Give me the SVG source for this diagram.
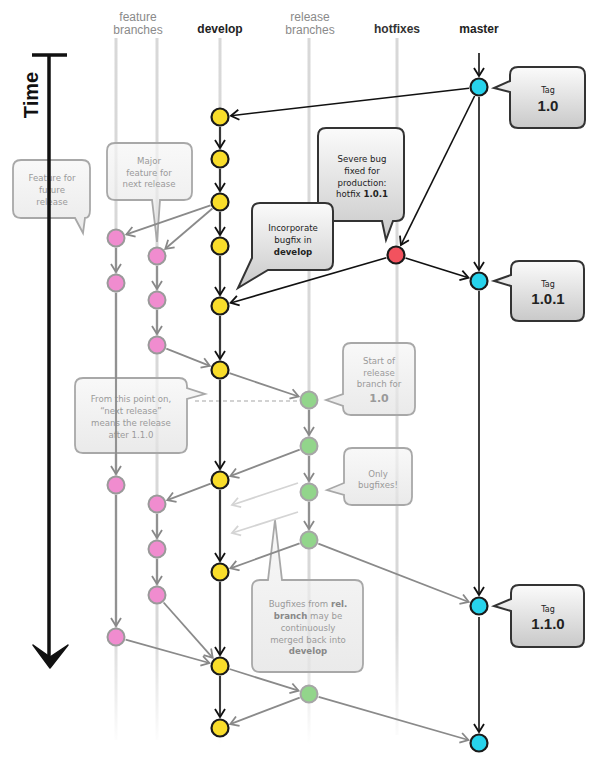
<svg xmlns="http://www.w3.org/2000/svg" width="599" height="765" viewBox="0 0 599 765">
<defs>
<linearGradient id="laneFade" gradientUnits="userSpaceOnUse" x1="0" y1="630" x2="0" y2="745">
<stop offset="0" stop-color="#d8d8d8"/><stop offset="1" stop-color="#d8d8d8" stop-opacity="0"/>
</linearGradient>
<linearGradient id="darkFill" x1="0" y1="0" x2="0" y2="1">
<stop offset="0" stop-color="#fbfbfb"/><stop offset="1" stop-color="#c9c9c9"/>
</linearGradient>
<linearGradient id="fadeFill" x1="0" y1="0" x2="0" y2="1">
<stop offset="0" stop-color="#f6f6f6"/><stop offset="1" stop-color="#e2e2e2"/>
</linearGradient>
<marker id="ab" viewBox="-10 -6 12 12" refX="0" refY="0" markerWidth="12" markerHeight="12" markerUnits="userSpaceOnUse" orient="auto"><path d="M-8,-5 L0,0 L-8,5" fill="none" stroke="#111" stroke-width="1.8"/></marker>
<marker id="ag" viewBox="-10 -6 12 12" refX="0" refY="0" markerWidth="12" markerHeight="12" markerUnits="userSpaceOnUse" orient="auto"><path d="M-8,-5 L0,0 L-8,5" fill="none" stroke="#888" stroke-width="1.8"/></marker>
<marker id="al" viewBox="-10 -6 12 12" refX="0" refY="0" markerWidth="12" markerHeight="12" markerUnits="userSpaceOnUse" orient="auto"><path d="M-8,-5 L0,0 L-8,5" fill="none" stroke="#d4d4d4" stroke-width="1.8"/></marker>
</defs>
<style>
.hdr{font-family:"Liberation Sans",Arial,sans-serif;font-size:12px;text-anchor:middle}
.gh{fill:#8a8a8a}
.bh{fill:#222;font-weight:bold}
.lane{stroke:url(#laneFade);stroke-width:3;fill:none}
.lanetop{stroke:#d8d8d8;stroke-width:3;fill:none}
.cb{stroke:#d8d8d8;stroke-width:3}
.k{stroke:#111;stroke-width:1.6;fill:none;marker-end:url(#ab)}
.g{stroke:#8a8a8a;stroke-width:1.8;fill:none;marker-end:url(#ag)}
.l{stroke:#d4d4d4;stroke-width:1.8;fill:none;marker-end:url(#al)}
.dc{fill:url(#darkFill);stroke:#333;stroke-width:2}
.fc{fill:url(#fadeFill);fill-opacity:0.72;stroke:#a8a8a8;stroke-width:1.8}
.dt{font-family:"DejaVu Sans","Liberation Sans",sans-serif;font-size:8.6px;fill:#222;text-anchor:middle}
.ft{font-family:"DejaVu Sans","Liberation Sans",sans-serif;font-size:8.6px;fill:#9a9a9a;text-anchor:middle}
.b{font-weight:bold}
.tagS{font-family:"DejaVu Sans","Liberation Sans",sans-serif;font-size:8px;fill:#222;text-anchor:middle}
.tagB{font-family:"Liberation Sans",Arial,sans-serif;font-size:15px;font-weight:bold;fill:#222;text-anchor:middle}
.dev{fill:#f9dd2b;stroke:#1a1a1a;stroke-width:2.2}
.mas{fill:#27d3ec;stroke:#1a1a1a;stroke-width:2.2}
.hot{fill:#f2525e;stroke:#1a1a1a;stroke-width:2.2}
.fea{fill:#f08ccf;stroke:#9a9a9a;stroke-width:2}
.rel{fill:#92d58b;stroke:#a6a6a6;stroke-width:2}
</style>
<rect width="599" height="765" fill="#fff"/>

<g id="headers">
<text class="hdr gh" x="138" y="21">feature</text>
<text class="hdr gh" x="138" y="34">branches</text>
<text class="hdr bh" x="220" y="33">develop</text>
<text class="hdr gh" x="310" y="21">release</text>
<text class="hdr gh" x="310" y="34">branches</text>
<text class="hdr bh" x="397" y="33" style="fill:#333">hotfixes</text>
<text class="hdr bh" x="479" y="33">master</text>
</g>

<g id="lanes">
<line class="lane" x1="116" y1="38" x2="116" y2="740"/>
<line class="lane" x1="157" y1="38" x2="157" y2="740"/>
<line class="lane" x1="220" y1="38" x2="220" y2="745"/>
<line class="lane" x1="309" y1="38" x2="309" y2="745"/>
<line class="lane" x1="397" y1="38" x2="397" y2="735"/>
</g>

<g id="callout-feature-future">
<path class="fc" d="M21,160 H82 Q90,160 90,168 V210 Q90,218 85,218 L83,233 L75,218 H21 Q13,218 13,210 V168 Q13,160 21,160 Z"/>
<text class="ft" x="52" y="180.5">Feature for</text>
<text class="ft" x="52" y="192.5">future</text>
<text class="ft" x="52" y="204.5">release</text>
</g>
<g id="callout-major-feature">
<path class="fc" d="M115,143 H184 Q192,143 192,151 V192 Q192,200 184,200 H160 L157,242 L152,200 H115 Q107,200 107,192 V151 Q107,143 115,143 Z"/>
<text class="ft" x="149" y="163.5">Major</text>
<text class="ft" x="149" y="175.5">feature for</text>
<text class="ft" x="149" y="187">next release</text>
</g>
<g id="callout-next-release">
<path class="fc" d="M83,378 H179 Q187,378 187,386 V388 L205,394 L187,399 V445 Q187,453 179,453 H83 Q75,453 75,445 V386 Q75,378 83,378 Z"/>
<text class="ft" x="131" y="402">From this point on,</text>
<text class="ft" x="131" y="414">“next release”</text>
<text class="ft" x="131" y="426">means the release</text>
<text class="ft" x="131" y="438">after 1.1.0</text>
</g>
<g id="callout-start-release">
<path class="fc" d="M351,343 H407 Q415,343 415,351 V407 Q415,415 407,415 H351 Q343,415 343,407 V406 L326,400 L343,394 V351 Q343,343 351,343 Z"/>
<text class="ft" x="379" y="364">Start of</text>
<text class="ft" x="379" y="375.5">release</text>
<text class="ft" x="379" y="387">branch for</text>
<text class="ft b" x="379" y="401.5" style="font-size:11px">1.0</text>
</g>
<g id="callout-only-bugfixes">
<path class="fc" d="M352,448 H404 Q412,448 412,456 V497 Q412,505 404,505 H352 Q344,505 344,497 V495 L327,490 L344,483 V456 Q344,448 352,448 Z"/>
<text class="ft" x="378" y="476.5">Only</text>
<text class="ft" x="378" y="488">bugfixes!</text>
</g>
<g id="callout-bugfixes-merged">
<path class="fc" d="M260,580 H268 L275,520 L282,580 H355 Q363,580 363,588 V664 Q363,672 355,672 H260 Q252,672 252,664 V588 Q252,580 260,580 Z"/>
<text class="ft" x="308" y="606.5">Bugfixes from <tspan class="b" style="fill:#888">rel.</tspan></text>
<text class="ft" x="308" y="618.5"><tspan class="b" style="fill:#888">branch</tspan> may be</text>
<text class="ft" x="308" y="630.5">continuously</text>
<text class="ft" x="308" y="642.5">merged back into</text>
<text class="ft b" x="308" y="654" style="fill:#888">develop</text>
</g>

<g id="time-axis">
<line x1="32" y1="55" x2="67" y2="55" stroke="#111" stroke-width="3.5"/>
<line x1="49" y1="55" x2="49" y2="660" stroke="#111" stroke-width="3.5"/>
<path d="M33,645 L50,668 L68,645 L50,657 Z" fill="#111" stroke="#111" stroke-width="1.5" stroke-linejoin="round"/>
<text transform="translate(38,95) rotate(-90)" font-family="Liberation Sans,Arial,sans-serif" font-size="20" font-weight="bold" fill="#111" text-anchor="middle">Time</text>
</g>

<g id="connectors">
<line x1="195" y1="401" x2="300" y2="401" stroke="#c4c4c4" stroke-width="1.3" stroke-dasharray="4 3"/>
<!-- master -->
<line class="k" x1="479" y1="53" x2="479" y2="76"/>
<line class="k" x1="469.1" y1="88.2" x2="230.9" y2="115.7"/>
<line class="k" x1="474.6" y1="96" x2="400.9" y2="245.1"/>
<line class="k" x1="479" y1="97" x2="479" y2="270"/>
<line class="k" x1="405.5" y1="258" x2="468.5" y2="277.7"/>
<line class="k" x1="386.4" y1="257.8" x2="230.6" y2="302.9"/>
<line class="k" x1="479" y1="291" x2="479" y2="595"/>
<line class="k" x1="479" y1="617" x2="479" y2="732"/>
<!-- develop -->
<line class="k" x1="220" y1="127" x2="220" y2="148"/>
<line class="k" x1="220" y1="169" x2="220" y2="191"/>
<line class="k" x1="220" y1="212" x2="220" y2="235"/>
<line class="k" x1="220" y1="256" x2="220" y2="295"/>
<line class="k" x1="220" y1="316" x2="220" y2="359"/>
<line class="k" x1="220" y1="380" x2="220" y2="469"/>
<line class="k" x1="220" y1="490" x2="220" y2="561"/>
<line class="k" x1="220" y1="582" x2="220" y2="655"/>
<line class="k" x1="220" y1="676" x2="220" y2="717"/>
<!-- features -->
<line class="g" x1="210.5" y1="205.3" x2="126.4" y2="234.4"/>
<line class="g" x1="212.4" y1="208.5" x2="165.3" y2="248.8"/>
<line class="g" x1="116" y1="248" x2="116" y2="272"/>
<line class="g" x1="116" y1="293" x2="116" y2="474"/>
<line class="g" x1="116" y1="495" x2="116" y2="626"/>
<line class="g" x1="125.6" y1="639.7" x2="209.4" y2="663"/>
<line class="g" x1="157" y1="266" x2="157" y2="289"/>
<line class="g" x1="157" y1="310" x2="157" y2="334"/>
<line class="g" x1="166.3" y1="348.7" x2="209.8" y2="365.9"/>
<line class="g" x1="210.6" y1="483.6" x2="167.3" y2="500.1"/>
<line class="g" x1="157" y1="514" x2="157" y2="538"/>
<line class="g" x1="157" y1="559" x2="157" y2="584"/>
<line class="g" x1="163.6" y1="602.5" x2="212.7" y2="657.8"/>
<!-- release -->
<line class="g" x1="229.5" y1="373.2" x2="298.6" y2="396.5"/>
<line class="g" x1="309" y1="410" x2="309" y2="435"/>
<line class="g" x1="309" y1="456" x2="309" y2="481"/>
<line class="g" x1="309" y1="502" x2="309" y2="529"/>
<line class="g" x1="299.7" y1="449.6" x2="230.3" y2="476.1"/>
<line class="l" x1="298" y1="483" x2="232" y2="505"/>
<line class="l" x1="298" y1="512" x2="232" y2="533"/>
<line class="g" x1="299.6" y1="543.4" x2="230.4" y2="568.3"/>
<line class="g" x1="318.3" y1="543.6" x2="468.7" y2="602"/>
<line class="g" x1="229.5" y1="669" x2="298.5" y2="690.7"/>
<line class="g" x1="318.6" y1="696.8" x2="468.4" y2="740"/>
<line class="g" x1="299.7" y1="697.6" x2="230.3" y2="724.1"/>
</g>

<g id="callout-severe-bug">
<path class="dc" d="M326,128 H396 Q404,128 404,136 V213 Q404,221 396,221 H393 L386,240 L382,221 H326 Q318,221 318,213 V136 Q318,128 326,128 Z"/>
<text class="dt" x="362" y="161.5">Severe bug</text>
<text class="dt" x="362" y="173.5">fixed for</text>
<text class="dt" x="362" y="185.5">production:</text>
<text class="dt" x="362" y="197">hotfix <tspan class="b">1.0.1</tspan></text>
</g>
<g id="callout-incorporate">
<path class="dc" d="M260,203 H325 Q333,203 333,211 V262 Q333,270 325,270 H268 L238,288 L252,258 V211 Q252,203 260,203 Z"/>
<text class="dt" x="293" y="230.5">Incorporate</text>
<text class="dt" x="293" y="242.5">bugfix in</text>
<text class="dt b" x="293" y="254.5">develop</text>
</g>
<g id="callout-tag-1.0">
<path class="dc" d="M518,67 H577 Q585,67 585,75 V120 Q585,128 577,128 H518 Q510,128 510,120 V92 L494,88 L510,81 V75 Q510,67 518,67 Z"/>
<text class="tagS" x="548" y="93">Tag</text>
<text class="tagB" x="548" y="111">1.0</text>
</g>
<g id="callout-tag-1.0.1">
<path class="dc" d="M519,261 H576 Q584,261 584,269 V313 Q584,321 576,321 H519 Q511,321 511,313 V286 L494,281 L511,275 V269 Q511,261 519,261 Z"/>
<text class="tagS" x="548" y="287">Tag</text>
<text class="tagB" x="548" y="303.5">1.0.1</text>
</g>
<g id="callout-tag-1.1.0">
<path class="dc" d="M519,585 H576 Q584,585 584,593 V639 Q584,647 576,647 H519 Q511,647 511,639 V611 L494,606 L511,599 V593 Q511,585 519,585 Z"/>
<text class="tagS" x="548" y="612">Tag</text>
<text class="tagB" x="548" y="628.5">1.1.0</text>
</g>

<g id="nodes">
<g id="develop-1"><circle class="dev" cx="220" cy="117" r="8.5"/></g>
<g id="develop-2"><circle class="dev" cx="220" cy="159" r="8.5"/></g>
<g id="develop-3"><circle class="dev" cx="220" cy="202" r="8.5"/></g>
<g id="develop-4"><circle class="dev" cx="220" cy="246" r="8.5"/></g>
<g id="develop-5"><circle class="dev" cx="220" cy="306" r="8.5"/></g>
<g id="develop-6"><circle class="dev" cx="220" cy="370" r="8.5"/></g>
<g id="develop-7"><circle class="dev" cx="220" cy="480" r="8.5"/></g>
<g id="develop-8"><circle class="dev" cx="220" cy="572" r="8.5"/></g>
<g id="develop-9"><circle class="dev" cx="220" cy="666" r="8.5"/></g>
<g id="develop-10"><circle class="dev" cx="220" cy="728" r="8.5"/></g>
<g id="master-1"><circle class="mas" cx="479" cy="87" r="8.5"/></g>
<g id="master-2"><circle class="mas" cx="479" cy="281" r="8.5"/></g>
<g id="master-3"><circle class="mas" cx="479" cy="606" r="8.5"/></g>
<g id="master-4"><circle class="mas" cx="479" cy="743" r="8.5"/></g>
<g id="hotfix-1"><circle class="hot" cx="396" cy="255" r="8.5"/></g>
<g id="release-1"><circle class="rel" cx="309" cy="400" r="8.5"/></g>
<g id="release-2"><circle class="rel" cx="309" cy="446" r="8.5"/></g>
<g id="release-3"><circle class="rel" cx="309" cy="492" r="8.5"/></g>
<g id="release-4"><circle class="rel" cx="309" cy="540" r="8.5"/></g>
<g id="release-5"><circle class="rel" cx="309" cy="694" r="8.5"/></g>
<g id="feature1-1"><circle class="fea" cx="116" cy="238" r="8.5"/></g>
<g id="feature1-2"><circle class="fea" cx="116" cy="283" r="8.5"/></g>
<g id="feature1-3"><circle class="fea" cx="116" cy="485" r="8.5"/></g>
<g id="feature1-4"><circle class="fea" cx="116" cy="637" r="8.5"/></g>
<g id="feature2-1"><circle class="fea" cx="157" cy="256" r="8.5"/></g>
<g id="feature2-2"><circle class="fea" cx="157" cy="300" r="8.5"/></g>
<g id="feature2-3"><circle class="fea" cx="157" cy="345" r="8.5"/></g>
<g id="feature2-4"><circle class="fea" cx="157" cy="504" r="8.5"/></g>
<g id="feature2-5"><circle class="fea" cx="157" cy="549" r="8.5"/></g>
<g id="feature2-6"><circle class="fea" cx="157" cy="595" r="8.5"/></g>
</g>
</svg>
